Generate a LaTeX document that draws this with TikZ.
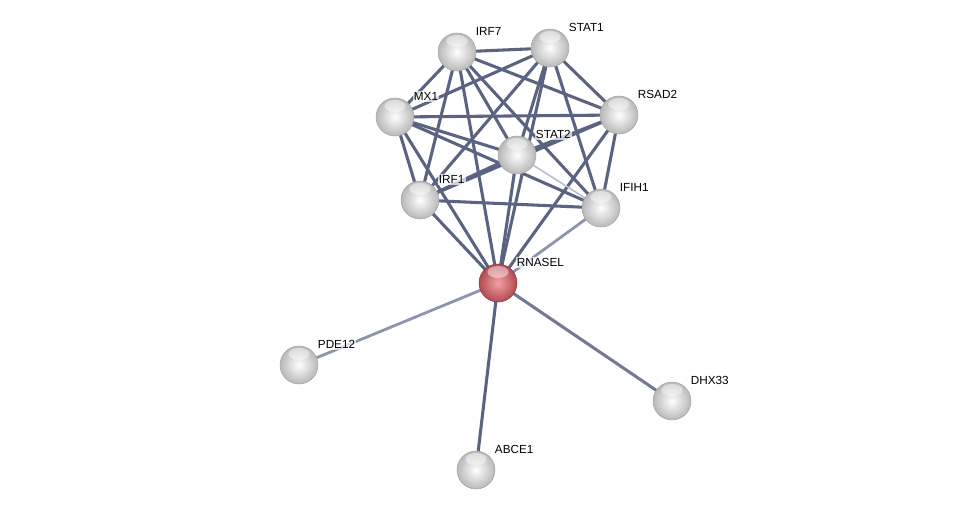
\documentclass[tikz,border=0pt]{standalone}
\usepackage{fontspec}
\setmainfont{Liberation Sans}
\usetikzlibrary{backgrounds}
\definecolor{edgeblue}{HTML}{5A6382}
\definecolor{edgepale}{HTML}{8C94AE}
\definecolor{ballrim}{HTML}{9A9A9A}
\definecolor{redrim}{HTML}{B04A50}
\definecolor{redcore}{HTML}{F4A0A2}

\begin{document}
\begin{tikzpicture}[x=0.75pt, y=-0.75pt,
  protein/.style={circle, minimum size=28.5pt, inner sep=0pt, shading=radial, inner color=white, outer color=ballrim!70, draw=gray!70, line width=0.4pt,
    path picture={\fill[white, opacity=0.45] ([yshift=-6pt]path picture bounding box.north) ellipse (8pt and 4.5pt);}},
  query/.style={protein, inner color=redcore, outer color=redrim, draw=redrim!80!black},
  gene/.style={anchor=west, font=\fontsize{8.8}{10}\selectfont, inner sep=1pt, fill=white, fill opacity=0.7, text opacity=1},
  link/.style={edgeblue, line width=2.3pt},
  weak/.style={edgepale, line width=2.1pt}]
\useasboundingbox (0,0) rectangle (976,515);
% proteins
\node[protein] (irf7) at (457,52) {};
\node[protein] (stat1) at (550,48) {};
\node[protein] (mx1) at (395,117) {};
\node[protein] (rsad2) at (619,115) {};
\node[protein] (stat2) at (517,155) {};
\node[protein] (irf1) at (420,200) {};
\node[protein] (ifih1) at (601,208) {};
\node[query] (rnasel) at (498,283) {};
\node[protein] (pde12) at (299,365) {};
\node[protein] (dhx33) at (672,401) {};
\node[protein] (abce1) at (476,470) {};
% interactions
\begin{scope}[on background layer]
\foreach \a/\b in {irf7/stat1, irf7/mx1, irf7/rsad2, irf7/stat2, irf7/irf1, irf7/ifih1, irf7/rnasel,
    stat1/mx1, stat1/rsad2, stat1/stat2, stat1/irf1, stat1/ifih1, stat1/rnasel,
    mx1/rsad2, mx1/stat2, mx1/irf1, mx1/ifih1, mx1/rnasel,
    rsad2/stat2, rsad2/irf1, rsad2/ifih1, rsad2/rnasel,
    stat2/irf1, stat2/rnasel, irf1/ifih1, irf1/rnasel, rnasel/abce1}
  \draw[link] (\a.center) -- (\b.center);
\draw[weak] (ifih1.center) -- (rnasel.center);
\draw[weak] (rnasel.center) -- (pde12.center);
\draw[link, edgeblue!85!white] (rnasel.center) -- (dhx33.center);
\draw[edgepale!60, line width=1.2pt] (stat2.center) -- (ifih1.center);
\end{scope}
% labels
\foreach \n/\t in {irf7/IRF7, stat1/STAT1, mx1/MX1, rsad2/RSAD2, stat2/STAT2, irf1/IRF1,
    ifih1/IFIH1, rnasel/RNASEL, pde12/PDE12, dhx33/DHX33, abce1/ABCE1}
  \node[gene] (\n-lbl) at ([xshift=13pt, yshift=15.5pt]\n.center) {\t};
\end{tikzpicture}
\end{document}
